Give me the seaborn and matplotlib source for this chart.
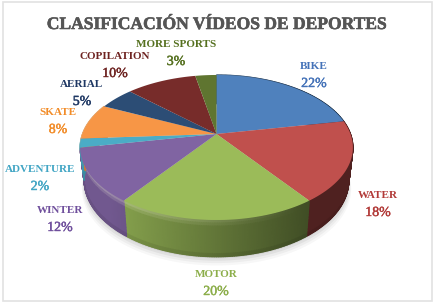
import numpy as np
import matplotlib
matplotlib.use("Agg")
import matplotlib.pyplot as plt
from matplotlib.collections import PolyCollection
from matplotlib.colors import to_rgb
from matplotlib.patches import Rectangle
import matplotlib.patheffects as pe
import seaborn as sns

# Chart data
categories = ["BIKE", "WATER", "MOTOR", "WINTER", "ADVENTURE", "SKATE", "AERIAL", "COPILATION", "MORE SPORTS"]
shares = [22, 18, 20, 12, 2, 8, 5, 10, 3]
chart_title = "CLASIFICACIÓN VÍDEOS DE DEPORTES"

sns.set_theme(style="white")
plt.rcParams["font.family"] = ["Liberation Serif", "DejaVu Serif"]
palette = sns.color_palette(["#4f81bd", "#c0504d", "#9bbb59", "#8064a2", "#4bacc6",
                             "#f79646", "#2c4d75", "#772c2a", "#5f7530"])
label_colors = sns.color_palette(["#4472b8", "#b23a38", "#8cae4a", "#6f4f9c", "#41a5c4",
                                  "#f28c28", "#1f3864", "#6e2321", "#55701f"])
label_pos = [(314, 75), (378, 204), (216, 283), (60, 219), (40, 178),
             (58, 121), (82, 93), (115, 65), (176, 53)]

# Perspective settings for the tilted pie, in pixels
cx, cy = 216.5, 134
rx, ry, tilt = 134, 70, 0.186
depth = 32
inner = 0.97


def project(theta, radius=1.0, drop=0.0):
    u = np.sin(theta) * radius
    v = np.cos(theta) * radius
    w = 1 + tilt * np.cos(theta)
    return cx + rx * u / w, cy - ry * v / w + drop / w


fig, ax = plt.subplots(figsize=(4.37, 3.05), dpi=100)
fig.subplots_adjust(0, 0, 1, 1)
ax.set_xlim(0, 437)
ax.set_ylim(305, 0)
ax.axis("off")
ax.add_patch(Rectangle((2.5, 1.5), 429, 299, fc="white", ec="#e2e2e2", lw=1.2))

fractions = np.cumsum([0] + shares) / sum(shares)
angles = fractions * 2 * np.pi

# Soft shadow under the pie
t = np.linspace(0, 2 * np.pi, 200)
for grow, alpha in zip([11, 8, 5, 2], [0.03, 0.04, 0.05, 0.06]):
    sx, sy = project(t, inner, depth)
    ax.fill(cx + (sx - cx) * (1 + grow / 600), sy + grow * 0.8, color="black", alpha=alpha, lw=0, zorder=1)

# Side wall, split into small shaded strips
polys, cols = [], []
levels = np.linspace(0, 1, 13)
for i in range(len(shares)):
    start, stop = angles[i], angles[i + 1]
    if stop < np.radians(70) or start > np.radians(290):
        continue
    grid = np.linspace(start, stop, max(int((stop - start) * 90), 2))
    base = np.array(to_rgb(palette[i]))
    for a, b in zip(grid[:-1], grid[1:]):
        for d0, d1 in zip(levels[:-1], levels[1:]):
            r0, r1 = 1 - (1 - inner) * d0, 1 - (1 - inner) * d1
            x0, y0 = project(a, r0, depth * d0)
            x1, y1 = project(b, r0, depth * d0)
            x2, y2 = project(b, r1, depth * d1)
            x3, y3 = project(a, r1, depth * d1)
            xmid = (x0 + x1) / 2
            shade = np.clip(0.88 - 0.47 * (xmid - 110) / 200, 0.41, 0.88)
            col = base * shade
            # rounded bevel along the top of the wall
            mid = (d0 + d1) / 2
            if mid < 0.2:
                glow = (1 - mid / 0.2) * np.clip((300 - xmid) / 200, 0, 1) * 0.55
                col = col + (np.array([1, 1, 0.9]) - col) * glow * 0.7
            if mid > 0.88:
                col = col * 0.92
            polys.append([(x0, y0), (x1, y1), (x2, y2), (x3, y3)])
            cols.append(np.clip(col, 0, 1))
ax.add_collection(PolyCollection(polys, facecolors=cols, edgecolors=cols, linewidths=0.9, zorder=2))

# Top surface
for i in range(len(shares)):
    arc = np.linspace(angles[i], angles[i + 1], 80)
    x, y = project(arc)
    ax.fill(np.r_[cx, x], np.r_[cy, y], color=palette[i], lw=0, zorder=3)

# Labels and title
for name, share, color, (lx, ly) in zip(categories, shares, label_colors, label_pos):
    ax.text(lx, ly - 8.5, name, color=color, fontsize=8, fontweight="bold", ha="center", va="center", zorder=5)
    ax.text(lx, ly + 8.5, f"{share}%", color=color, fontsize=10, ha="center", va="center", zorder=5,
            path_effects=[pe.withStroke(linewidth=0.3, foreground=color)])

ax.text(216.5, 25, chart_title, color="#555555", fontsize=12.6, fontweight="bold", ha="center", va="center",
        zorder=5, path_effects=[pe.withStroke(linewidth=0.4, foreground="#555555")])

fig.savefig("out.png", dpi=100)
